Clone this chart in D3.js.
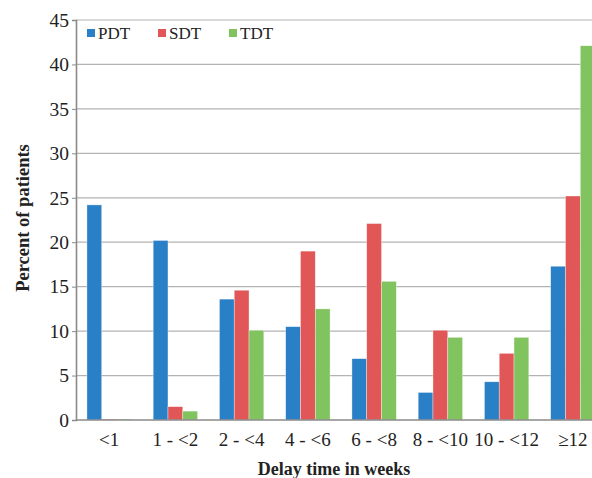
<!DOCTYPE html>
<html>
<head>
<meta charset="utf-8">
<script src="https://cdn.jsdelivr.net/npm/d3@7"></script>
<style>
  body { margin: 0; background: #fff; }
  text { font-family: "Liberation Serif", "DejaVu Serif", serif; fill: #222; }
</style>
</head>
<body>
<div id="chart"></div>
<script>
// delay categories and percent of patients per series
const categories = ['<1', '1 - <2', '2 - <4', '4 - <6', '6 - <8', '8 - <10', '10 - <12', '\u226512'];
const seriesNames = ['PDT', 'SDT', 'TDT'];
const pdt = [24.2, 20.2, 13.6, 10.5, 6.9, 3.1, 4.3, 17.3];
const sdt = [0.1, 1.5, 14.6, 19.0, 22.1, 10.1, 7.5, 25.2];
const tdt = [0.1, 1.0, 10.1, 12.5, 15.6, 9.3, 9.3, 42.1];
const yTicks = [0, 5, 10, 15, 20, 25, 30, 35, 40, 45];
const colours = ['#2a80c7', '#e15656', '#80c35f'];

const width = 592;
const height = 478;
const margin = { top: 20, right: -14, bottom: 58, left: 76 };

const svg = d3.select('#chart').append('svg')
  .attr('width', width)
  .attr('height', height);

const x = d3.scaleBand()
  .domain(categories)
  .range([margin.left, width - margin.right])
  .paddingInner(0.33)
  .paddingOuter(0.165);

const xInner = d3.scaleBand()
  .domain(seriesNames)
  .range([0, x.bandwidth()]);

const y = d3.scaleLinear()
  .domain([0, 45])
  .range([height - margin.bottom, margin.top]);

// gridlines
svg.append('g')
  .selectAll('line')
  .data(yTicks.filter((d) => d > 0))
  .enter()
  .append('line')
  .attr('x1', margin.left)
  .attr('x2', width)
  .attr('y1', (d) => y(d))
  .attr('y2', (d) => y(d))
  .attr('stroke', '#b3b3b3')
  .attr('stroke-width', 1.2);

// bars
const data = [pdt, sdt, tdt];
const groups = svg.append('g')
  .selectAll('g')
  .data(categories)
  .enter()
  .append('g')
  .attr('transform', (d) => `translate(${x(d)},0)`);

groups.selectAll('rect')
  .data((d, i) => seriesNames.map((s, j) => ({ s, v: data[j][i] })))
  .enter()
  .append('rect')
  .attr('x', (d) => xInner(d.s))
  .attr('width', xInner.bandwidth())
  .attr('y', (d) => y(d.v))
  .attr('height', (d) => y(0) - y(d.v))
  .attr('fill', (d, i) => colours[i])
  .attr('stroke', 'rgba(255,255,255,0.6)')
  .attr('stroke-width', 0.6);

// y axis
const yAxis = svg.append('g')
  .attr('transform', `translate(${margin.left},0)`)
  .call(d3.axisLeft(y).tickValues(yTicks).tickSize(4).tickPadding(3));
yAxis.select('.domain').attr('stroke', '#8a8a8a').attr('stroke-width', 1.6);
yAxis.selectAll('.tick line').attr('stroke', '#8a8a8a');
yAxis.selectAll('.tick text')
  .attr('font-size', 19.5)
  .attr('font-family', '"Liberation Serif", serif')
  .attr('fill', '#222');

// x axis
const xAxis = svg.append('g')
  .attr('transform', `translate(0,${y(0)})`)
  .call(d3.axisBottom(x).tickSize(0).tickPadding(13));
xAxis.select('.domain').attr('stroke', '#8a8a8a').attr('stroke-width', 1.6)
  .attr('d', `M${margin.left},0H${width}`);
xAxis.selectAll('.tick text')
  .attr('font-size', 19)
  .attr('font-family', '"Liberation Serif", serif')
  .attr('fill', '#222');

// axis titles
svg.append('text')
  .attr('x', 334)
  .attr('y', 475)
  .attr('text-anchor', 'middle')
  .attr('font-size', 18)
  .attr('font-weight', 'bold')
  .text('Delay time in weeks');

svg.append('text')
  .attr('transform', 'translate(29,218) rotate(-90)')
  .attr('text-anchor', 'middle')
  .attr('font-size', 18.5)
  .attr('font-weight', 'bold')
  .text('Percent of patients');

// legend
const legend = svg.append('g')
  .selectAll('g')
  .data(seriesNames)
  .enter()
  .append('g')
  .attr('transform', (d, i) => `translate(${87 + i * 71},29)`);

legend.append('rect')
  .attr('width', 8)
  .attr('height', 8)
  .attr('fill', (d, i) => colours[i]);

legend.append('text')
  .attr('x', 11)
  .attr('y', 9.5)
  .attr('font-size', 17)
  .text((d) => d);
</script>
</body>
</html>
